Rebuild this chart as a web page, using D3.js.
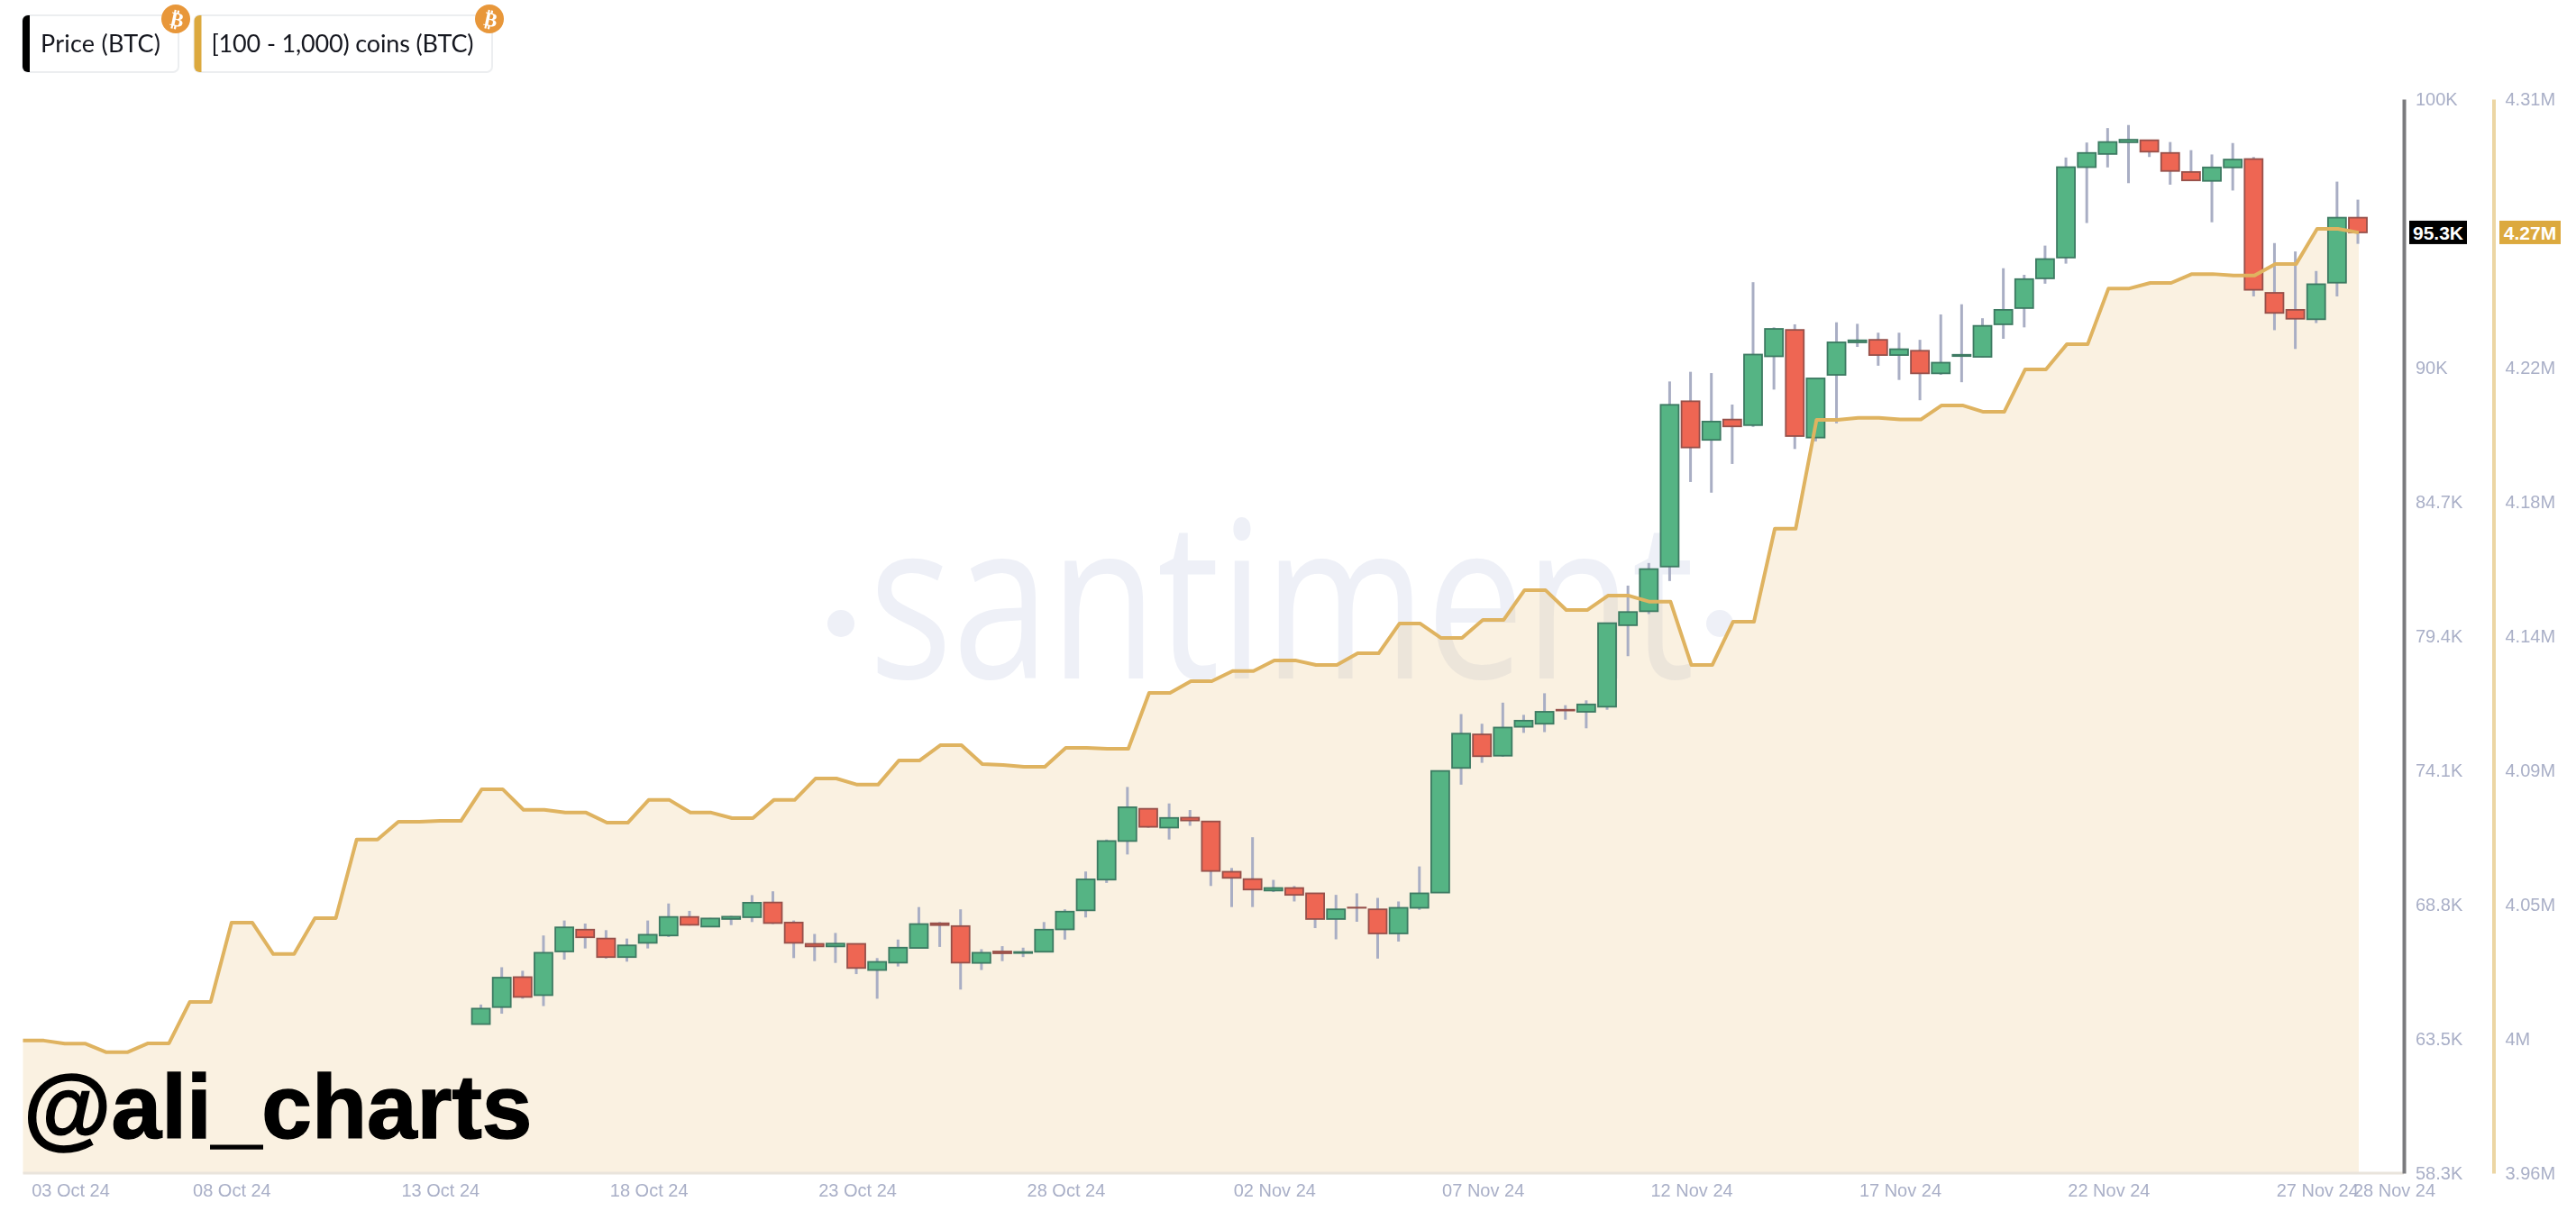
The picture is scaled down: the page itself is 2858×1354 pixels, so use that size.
<!DOCTYPE html>
<html>
<head>
<meta charset="utf-8">
<script src="https://cdn.jsdelivr.net/npm/d3@7"></script>
<style>
  html, body { margin: 0; padding: 0; background: #fff; }
  svg { display: block; filter: blur(0.7px); }
</style>
</head>
<body>
<div id="chart"></div>
<script>
// price candles, 12h each, from 14 Oct 24 on (thousands of USD)
var priceOpen = [64.17,64.84,66.02,65.31,67.03,67.89,67.54,66.81,67.37,67.66,68.39,68.01,68.31,68.38,68.96,68.17,67.33,67.23,67.33,66.30,66.59,67.17,68.14,68.03,66.58,67.03,66.97,67.02,67.90,68.65,69.86,71.38,72.65,71.91,
  72.30,72.15,70.17,69.88,69.43,69.53,69.32,68.31,68.76,68.69,67.74,68.75,69.35,74.26,75.58,74.74,75.88,76.00,76.55,76.47,76.67,79.88,
  80.43,82.19,88.70,87.18,87.98,87.76,90.47,91.51,87.27,89.74,91.02,91.12,90.52,90.69,89.80,90.48,90.45,91.73,92.37,93.54,
  94.36,97.92,98.44,98.90,98.98,98.48,97.73,97.38,97.91,98.24,92.97,92.30,91.93,93.37,95.93];
var priceHigh = [64.94,66.41,66.27,67.66,68.25,68.13,67.87,67.54,68.25,68.92,68.63,68.35,68.43,69.25,69.40,68.25,67.72,67.76,67.33,66.77,67.50,68.78,68.19,68.69,67.12,67.24,67.18,68.19,68.69,70.18,71.44,73.51,72.65,72.86,
  72.60,72.15,70.32,71.53,69.85,69.61,69.32,69.26,69.32,69.14,69.00,70.38,74.14,76.38,76.00,76.83,76.35,77.20,76.73,76.92,79.96,81.44,
  82.33,89.48,89.86,89.81,88.57,93.39,91.61,91.73,89.60,91.81,91.75,91.40,91.40,91.12,92.12,92.52,91.97,93.94,93.68,94.83,
  98.30,98.89,99.46,99.58,99.00,98.91,98.59,98.42,98.87,98.32,94.93,94.60,93.83,97.35,96.64];
var priceLow = [64.17,64.58,65.17,64.88,66.71,67.15,66.75,66.63,67.15,67.60,68.05,67.99,68.07,68.19,68.11,66.77,66.65,66.58,66.14,65.17,66.44,67.15,67.21,65.53,66.30,66.65,66.81,67.01,67.50,68.37,69.73,70.85,71.90,71.44,
  71.98,69.61,68.78,68.78,69.37,69.00,67.95,67.51,68.20,66.75,67.42,68.67,69.35,73.60,74.46,74.70,75.64,75.67,76.16,75.82,76.55,78.66,
  80.32,81.62,85.52,85.10,86.23,87.69,89.16,86.82,87.12,87.83,90.84,90.10,89.54,88.74,89.74,89.45,90.43,91.16,91.61,93.33,
  94.12,95.72,97.91,97.29,98.32,97.23,97.40,95.75,97.00,92.83,91.50,90.76,91.78,92.83,94.90];
var priceClose = [64.78,66.00,65.24,66.98,67.98,67.59,66.81,67.27,67.69,68.39,68.08,68.33,68.40,68.95,68.15,67.37,67.23,67.34,66.38,66.62,67.18,68.11,68.07,66.59,66.98,66.96,67.01,67.89,68.60,69.87,71.38,72.71,71.94,72.29,
  72.19,70.20,69.93,69.47,69.53,69.26,68.31,68.69,68.75,67.74,68.75,69.32,74.14,75.61,74.72,75.85,76.12,76.47,76.52,76.76,79.96,80.40,
  82.09,88.56,86.88,87.90,87.71,90.54,91.55,87.33,89.60,91.02,91.10,90.52,90.75,89.80,90.22,90.53,91.67,92.30,93.51,94.30,
  97.92,98.48,98.91,99.00,98.53,97.77,97.40,97.91,98.22,93.09,92.18,91.95,93.31,95.93,95.35];

// [100 - 1,000) coins holdings, 12h points from 03 Oct 24 on (millions of BTC)
var holdings = [4.0032,4.0032,4.0022,4.0022,3.9994,3.9994,4.0023,4.0023,4.0158,4.0158,4.0416,4.0416,4.0314,4.0314,4.0431,4.0431,4.0687,4.0687,4.0745,4.0745,4.0748,4.0748,
  4.0851,4.0851,4.0784,4.0784,4.0775,4.0775,4.0742,4.0742,4.0816,4.0816,4.0775,4.0775,4.0757,4.0757,4.0816,4.0816,4.0886,4.0886,4.0866,4.0866,4.0945,4.0945,4.0995,4.0995,
  4.0933,4.0930,4.0924,4.0924,4.0986,4.0986,4.0983,4.0983,4.1165,4.1165,4.1203,4.1203,4.1236,4.1236,4.1271,4.1271,4.1256,4.1256,4.1294,4.1294,4.1391,4.1391,4.1344,4.1344,
  4.1403,4.1403,4.1500,4.1500,4.1435,4.1435,4.1482,4.1482,4.1462,4.1462,4.1256,4.1256,4.1397,4.1397,4.1700,4.1700,4.2055,4.2055,4.2061,4.2061,4.2056,4.2056,4.2102,4.2102,
  4.2081,4.2081,4.2219,4.2219,4.2301,4.2301,4.2483,4.2483,4.2501,4.2501,4.2530,4.2530,4.2525,4.2525,4.2563,4.2563,4.2677,4.2677,4.2665];

// axis ticks
var priceTicks = [58.3,63.59,68.87,74.16,79.45,84.73,90.02,100.6];
var priceTickLabels = ["58.3K","63.5K","68.8K","74.1K","79.4K","84.7K","90K","100K"];
var holdingTicks = [3.96,4.0038,4.0475,4.0913,4.135,4.1788,4.2225,4.31];
var holdingTickLabels = ["3.96M","4M","4.05M","4.09M","4.14M","4.18M","4.22M","4.31M"];
var dateTicks = ["2024-10-03","2024-10-08","2024-10-13","2024-10-18","2024-10-23","2024-10-28","2024-11-02","2024-11-07","2024-11-12","2024-11-17","2024-11-22","2024-11-27","2024-11-28"];
var legendNames = ["Price (BTC)","[100 - 1,000) coins (BTC)"];

var width = 2858, height = 1354;
var left = 25.5, right = 2617, top_ = 110, bottom = 1302;
var axisColor = "#a9afc7", gold = "#dfb360";
var green = "#55b484", red = "#ee6653";

var svg = d3.select("#chart").append("svg").attr("width", width).attr("height", height);

// scales
var start = Date.UTC(2024, 9, 3);
var dates = holdings.map((d, i) => d3.utcHour.offset(start, i * 12));
var candleDates = dates.slice(dates.length - priceOpen.length);
var x = d3.scaleUtc().domain([start, dates[dates.length - 1]]).range([left, right]);
var yPrice = d3.scaleLinear().domain([58.3, 100.6]).range([bottom, top_]);
var yHold = d3.scaleLinear().domain([3.96, 4.31]).range([bottom, top_]);

// watermark sits under everything
var mark = svg.append("g").attr("fill", "#eef0f7");
mark.append("text").text("santiment")
  .attr("x", 964).attr("y", 753)
  .attr("textLength", 916).attr("lengthAdjust", "spacingAndGlyphs")
  .style("font-family", "'Open Sans'").style("font-weight", 400).style("font-size", "243px");
mark.append("circle").attr("cx", 933).attr("cy", 692).attr("r", 15);
mark.append("circle").attr("cx", 1908).attr("cy", 692).attr("r", 15);

// area below the holdings line
var area = d3.area().x((d, i) => x(dates[i])).y0(bottom).y1(d => yHold(d));
svg.append("path").datum(holdings).attr("d", area).attr("fill", "rgb(232,184,105)").attr("fill-opacity", 0.2);

// baseline
svg.append("line").attr("x1", left).attr("x2", 2667).attr("y1", bottom).attr("y2", bottom)
  .attr("stroke", "#e9e4dc").attr("stroke-width", 3);

// candles
var candles = svg.append("g").selectAll("g").data(candleDates).join("g");
candles.append("line")
  .attr("x1", d => x(d) - 1).attr("x2", d => x(d) - 1)
  .attr("y1", (d, i) => yPrice(priceHigh[i])).attr("y2", (d, i) => yPrice(priceLow[i]))
  .attr("stroke", "#a9aec4").attr("stroke-width", 3);
candles.append("rect")
  .attr("x", d => x(d) - 11).attr("width", 20)
  .attr("y", (d, i) => yPrice(Math.max(priceOpen[i], priceClose[i])))
  .attr("height", (d, i) => Math.abs(yPrice(priceOpen[i]) - yPrice(priceClose[i])))
  .attr("fill", (d, i) => priceClose[i] >= priceOpen[i] ? green : red)
  .attr("stroke", (d, i) => priceClose[i] >= priceOpen[i] ? "#3d7a62" : "#96504a")
  .attr("stroke-width", 1.8);

// holdings line goes over the candles
var line = d3.line().x((d, i) => x(dates[i])).y(d => yHold(d));
svg.append("path").datum(holdings).attr("d", line).attr("fill", "none")
  .attr("stroke", gold).attr("stroke-width", 4).attr("stroke-linejoin", "round");

// axes
function styleAxis(g) {
  g.selectAll("text").attr("fill", axisColor)
    .style("font-family", "'Liberation Sans'").style("font-size", "20px");
}
var priceAxis = svg.append("g").attr("transform", "translate(2667,0)")
  .call(d3.axisRight(yPrice).tickValues(priceTicks).tickFormat((d, i) => priceTickLabels[i]).tickSize(0).tickPadding(13))
  .call(styleAxis);
priceAxis.select(".domain").attr("stroke", "#7b7b7e").attr("stroke-width", 4);

var holdAxis = svg.append("g").attr("transform", "translate(2766.5,0)")
  .call(d3.axisRight(yHold).tickValues(holdingTicks).tickFormat((d, i) => holdingTickLabels[i]).tickSize(0).tickPadding(13))
  .call(styleAxis);
holdAxis.select(".domain").attr("stroke", "#ecd6a4").attr("stroke-width", 4);

var xAxis = svg.append("g").attr("transform", "translate(0," + bottom + ")")
  .call(d3.axisBottom(x).tickValues(dateTicks.map(d => new Date(d))).tickFormat(d3.utcFormat("%d %b %y")).tickSize(0).tickPadding(12))
  .call(styleAxis);
xAxis.select(".domain").remove();
// first and last labels get pushed inside
xAxis.selectAll(".tick text").filter((d, i) => i == 0).attr("dx", 52.5);
xAxis.selectAll(".tick text").filter((d, i) => i == dateTicks.length - 1).attr("dx", 39);

// last value tags
function tag(x0, w, yVal, color, label) {
  svg.append("rect").attr("x", x0).attr("y", yVal - 13).attr("width", w).attr("height", 26).attr("fill", color);
  svg.append("text").text(label).attr("x", x0 + w / 2).attr("y", yVal).attr("dy", "0.36em")
    .attr("text-anchor", "middle").attr("fill", "#fff")
    .style("font-family", "'Liberation Sans'").style("font-weight", "bold").style("font-size", "21px");
}
tag(2673, 64, yPrice(priceClose[priceClose.length - 1]), "#000", "95.3K");
tag(2773, 68, yPrice(priceClose[priceClose.length - 1]), "#dca93e", "4.27M");

// legend chips
var chipX = [25, 215.5], chipW = [173, 330.5], chipColor = ["#000", "#dca93e"], chipText = [20, 19];
legendNames.forEach((name, i) => {
  var chip = svg.append("g").attr("transform", "translate(" + chipX[i] + ",17)");
  chip.append("rect").attr("width", chipW[i]).attr("height", 63).attr("rx", 6)
    .attr("fill", "#fff").attr("stroke", "#eceef0").attr("stroke-width", 2);
  chip.append("path").attr("d", "M8,0H6A6,6 0 0 0 0,6V57A6,6 0 0 0 6,63H8Z").attr("fill", chipColor[i]);
  chip.append("text").text(name).attr("x", chipText[i]).attr("y", 41).attr("fill", "#15171f")
    .attr("textLength", i == 0 ? 133 : 291)
    .style("font-family", "Lato").style("font-size", "27px");
  chip.append("circle").attr("cx", chipW[i] - 3).attr("cy", 4).attr("r", 16).attr("fill", "#e8973a");
  chip.append("text").text("\u20bf").attr("text-anchor", "middle")
    .attr("transform", "translate(" + (chipW[i] - 3) + ",12) rotate(12)")
    .attr("fill", "#fff").style("font-family", "'DejaVu Sans'").style("font-weight", "bold").style("font-size", "22px");
});

// author handle
svg.append("text").text("@ali_charts").attr("x", 26).attr("y", 1263).attr("fill", "#000")
  .attr("stroke", "#000").attr("stroke-width", 1.5)
  .style("font-family", "'Liberation Sans'").style("font-weight", "bold").style("font-size", "100px");
</script>
</body>
</html>
